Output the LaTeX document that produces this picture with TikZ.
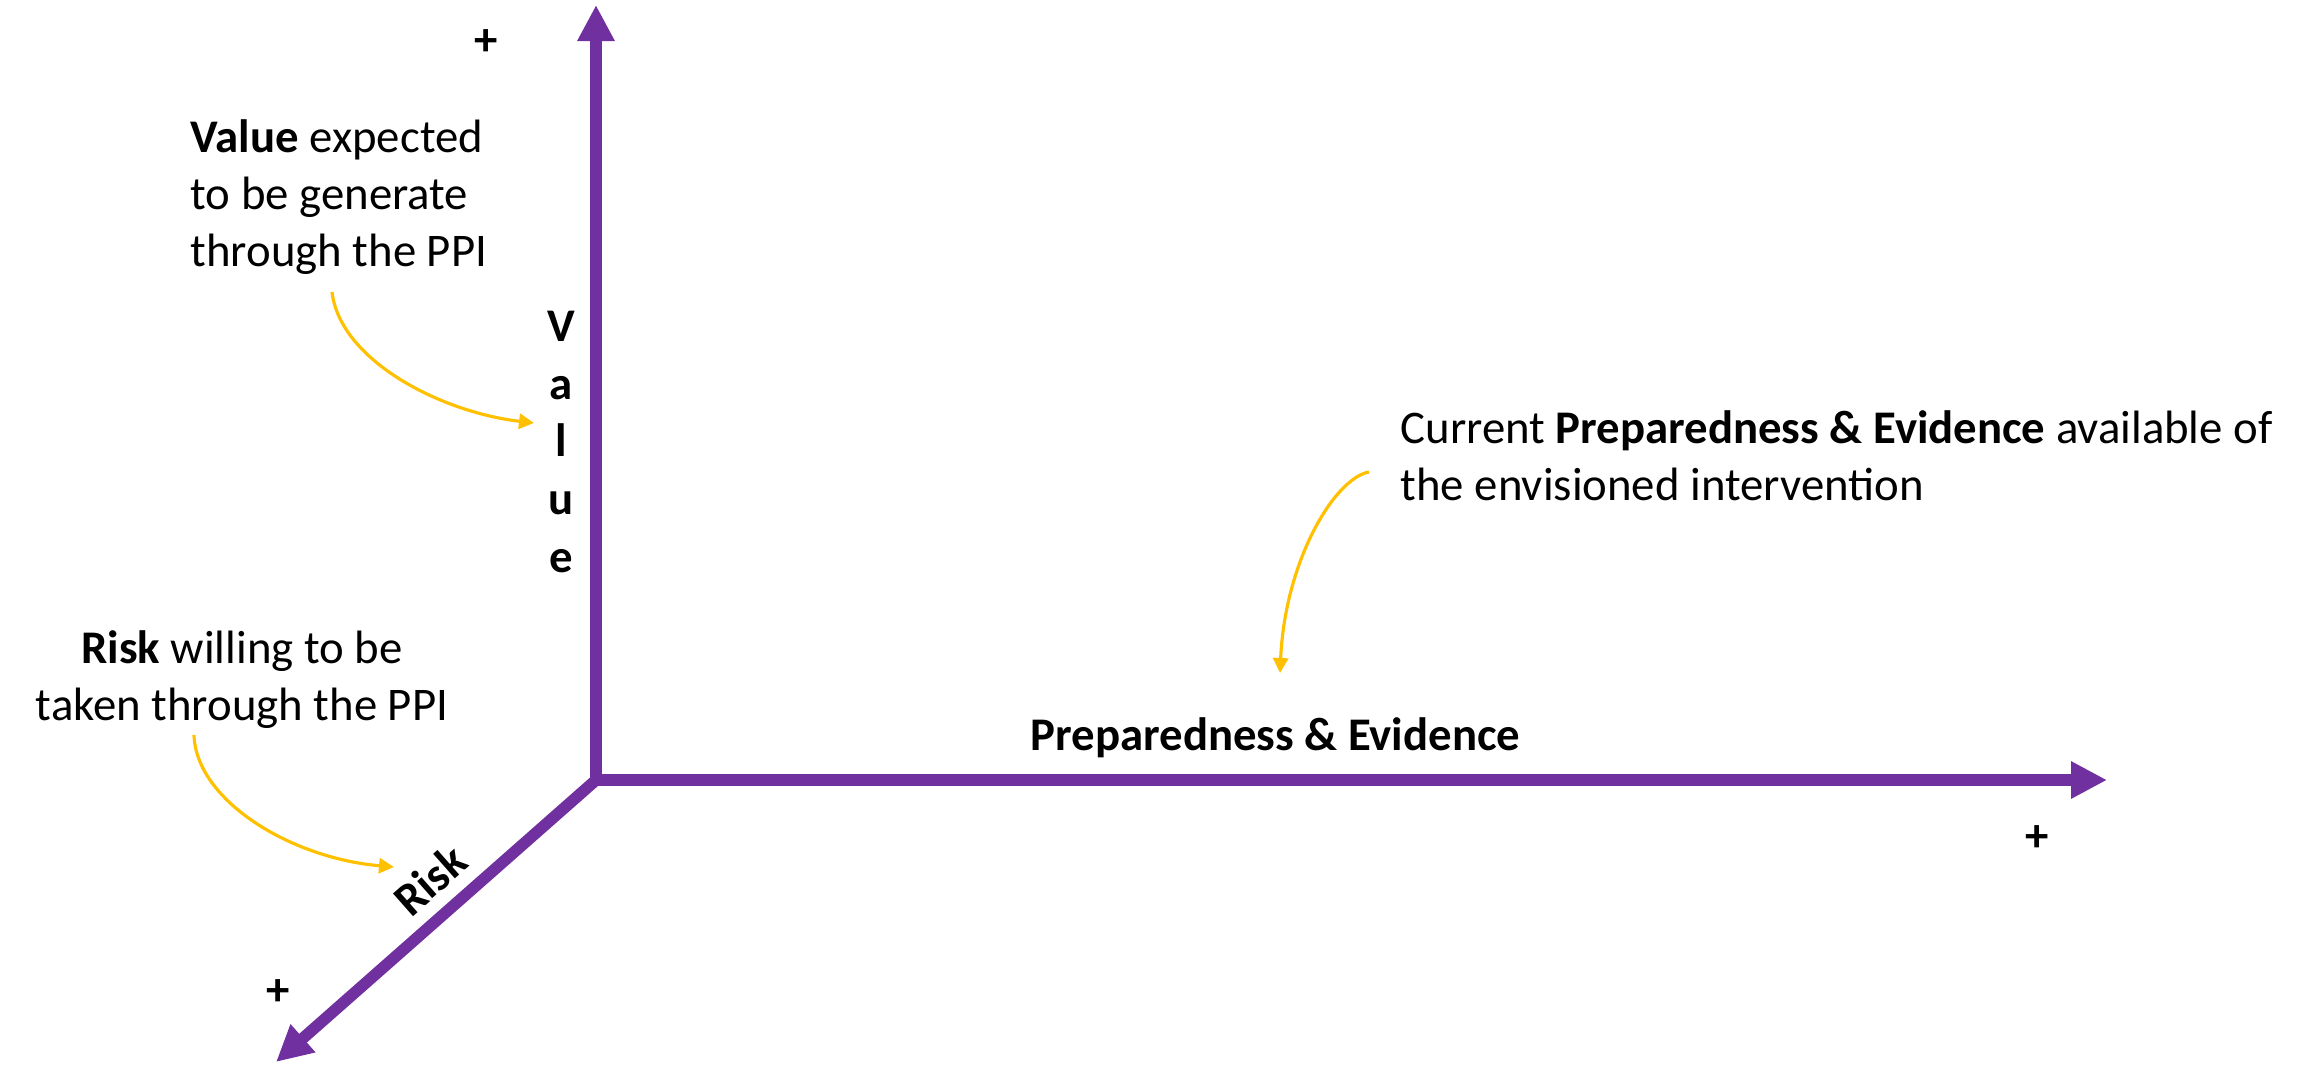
\documentclass[tikz,border=0pt]{standalone}
\usepackage{fontspec}
\setmainfont{Carlito}
\usetikzlibrary{arrows.meta}
\definecolor{axispurple}{HTML}{7030A0}
\definecolor{notegold}{HTML}{FFC000}

\begin{document}
\begin{tikzpicture}[x=0.01cm, y=-0.01cm,
  txt/.style={inner sep=0, font=\fontsize{13.3pt}{16.2pt}\selectfont},
  lbl/.style={inner sep=0, font=\fontsize{13.3pt}{16.4pt}\selectfont\bfseries},
  axis/.style={draw=axispurple, line width=3.3pt, line cap=rect, -{Triangle[length=0.36cm, width=0.35cm]}},
  note/.style={draw=notegold, line width=0.9pt, -{Triangle[length=0.15cm, width=0.15cm]}}
]
\useasboundingbox (0,0) rectangle (2301,1064);

\coordinate (O) at (596,780);
\coordinate (vtop) at (596,5);
\coordinate (pend) at (2107,780);
\coordinate (rend) at (276,1062);
\draw[axis] (O) -- (vtop);
\draw[axis] (O) -- (pend);
\draw[axis] (O) -- (rend);

\node[lbl, align=center] (vlab) at (561,442) {V\\a\\l\\u\\e};
\node[lbl, anchor=base west] (plab) at (1030,750) {Preparedness \& Evidence};
\node[lbl, rotate=41.4] (rlab) at (430,880) {Risk};
\node[lbl] (vplus) at (486,43) {+};
\node[lbl] (pplus) at (2037,839) {+};
\node[lbl] (rplus) at (278,993) {+};

\node[txt, align=left, anchor=west] (vnote) at (190,197) {\textbf{Value} expected\\to be generate\\through the PPI};
\node[txt, align=center] (rnote) at (242,680) {\textbf{Risk} willing to be\\taken through the PPI};
\node[txt, align=left, anchor=west] (pnote) at (1400,456) {Current \textbf{Preparedness \& Evidence} available of\\the envisioned intervention};

\coordinate (vfrom) at (332,292);
\coordinate (vto) at (534,423);
\coordinate (rfrom) at (194,735);
\coordinate (rto) at (394,867);
\coordinate (pfrom) at (1369,472);
\coordinate (pto) at (1280,673);
\draw[note] (vfrom) .. controls (340,360) and (440,412) .. (vto);
\draw[note] (rfrom) .. controls (196,800) and (290,858) .. (rto);
\draw[note] (pfrom) .. controls (1335,478) and (1285,560) .. (pto);
\end{tikzpicture}
\end{document}
